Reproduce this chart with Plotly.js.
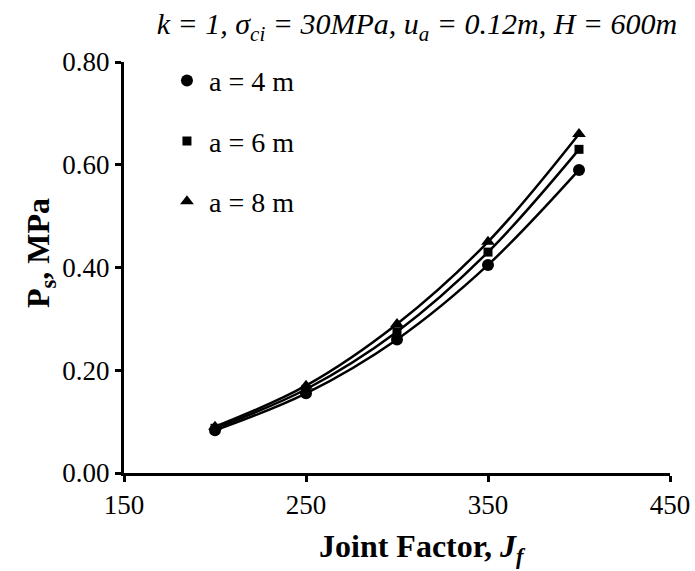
<!DOCTYPE html>
<html>
<head>
<meta charset="utf-8">
<script src="https://cdn.plot.ly/plotly-3.0.1.min.js"></script>
<style>html,body{margin:0;padding:0;background:#fff;}#chart{width:695px;height:571px;}</style>
</head>
<body>
<div id="chart"></div>
<script>
const jointFactor = [200, 250, 300, 350, 400];
const seriesNames = ["a = 4 m", "a = 6 m", "a = 8 m"];
const ps_a4 = [0.083, 0.155, 0.260, 0.405, 0.590];
const ps_a6 = [0.087, 0.163, 0.275, 0.430, 0.630];
const ps_a8 = [0.090, 0.170, 0.290, 0.450, 0.660];
const symbols = ["circle", "square", "triangle-up"];
const symbolSizes = [12, 9, 12];
const chartTitle = "<i>k = 1, σ<sub>ci</sub> = 30MPa, u<sub>a</sub> = 0.12m, H = 600m</i>";
const xTitle = "<b>Joint Factor, <i>J<sub>f</sub></i></b>";
const yTitle = "<b>P<sub>s</sub>, MPa</b>";

const allSeries = [ps_a4, ps_a6, ps_a8];
const traces = [];
allSeries.forEach((ys, i) => {
  traces.push({
    x: jointFactor, y: ys, type: "scatter", mode: "lines",
    line: {color: "black", width: 2.5, shape: "spline", smoothing: 1},
    showlegend: false, hoverinfo: "skip"
  });
});
allSeries.forEach((ys, i) => {
  traces.push({
    x: jointFactor, y: ys, type: "scatter", mode: "markers",
    name: seriesNames[i], legendgroup: "g" + i,
    marker: {symbol: symbols[i], size: symbolSizes[i], color: "black"}
  });
});

const fam = "Liberation Serif, Times New Roman, serif";
const tickFont = {family: fam, color: "black", size: 27};
const layout = {
  width: 695, height: 571,
  margin: {l: 124, r: 25, t: 62, b: 98},
  paper_bgcolor: "white", plot_bgcolor: "white",
  font: {family: fam, color: "black", size: 27},
  title: {
    text: chartTitle,
    font: {family: fam, size: 30, color: "black"},
    x: 0.6, xanchor: "center", y: 0.958, yanchor: "middle"
  },
  xaxis: {
    range: [150, 450], dtick: 100, tick0: 150,
    showgrid: false, zeroline: false,
    showline: true, linecolor: "black", linewidth: 3,
    ticks: "outside", ticklen: 6, tickwidth: 3, tickcolor: "black",
    tickfont: tickFont, ticklabeloverflow: "allow"
  },
  yaxis: {
    range: [0, 0.8], dtick: 0.2, tickformat: ".2f",
    showgrid: false, zeroline: false,
    showline: true, linecolor: "black", linewidth: 3,
    ticks: "outside", ticklen: 6, tickwidth: 3, tickcolor: "black",
    tickfont: tickFont, ticklabeloverflow: "allow"
  },
  annotations: [
    {text: xTitle, xref: "paper", yref: "paper", x: 0.546, y: -0.183,
     xanchor: "center", yanchor: "middle", showarrow: false,
     font: {family: fam, size: 32, color: "black"}},
    {text: yTitle, xref: "paper", yref: "paper", x: -0.154, y: 0.535,
     xanchor: "center", yanchor: "middle", showarrow: false, textangle: -90,
     font: {family: fam, size: 32, color: "black"}}
  ],
  legend: {
    x: 0.075, y: 1.015, xanchor: "left", yanchor: "top",
    bgcolor: "rgba(0,0,0,0)", font: {family: fam, color: "black", size: 28},
    traceorder: "grouped", tracegroupgap: 21, itemwidth: 34
  },
  showlegend: true
};
Plotly.newPlot("chart", traces, layout, {displayModeBar: false, staticPlot: true});
</script>
</body>
</html>
